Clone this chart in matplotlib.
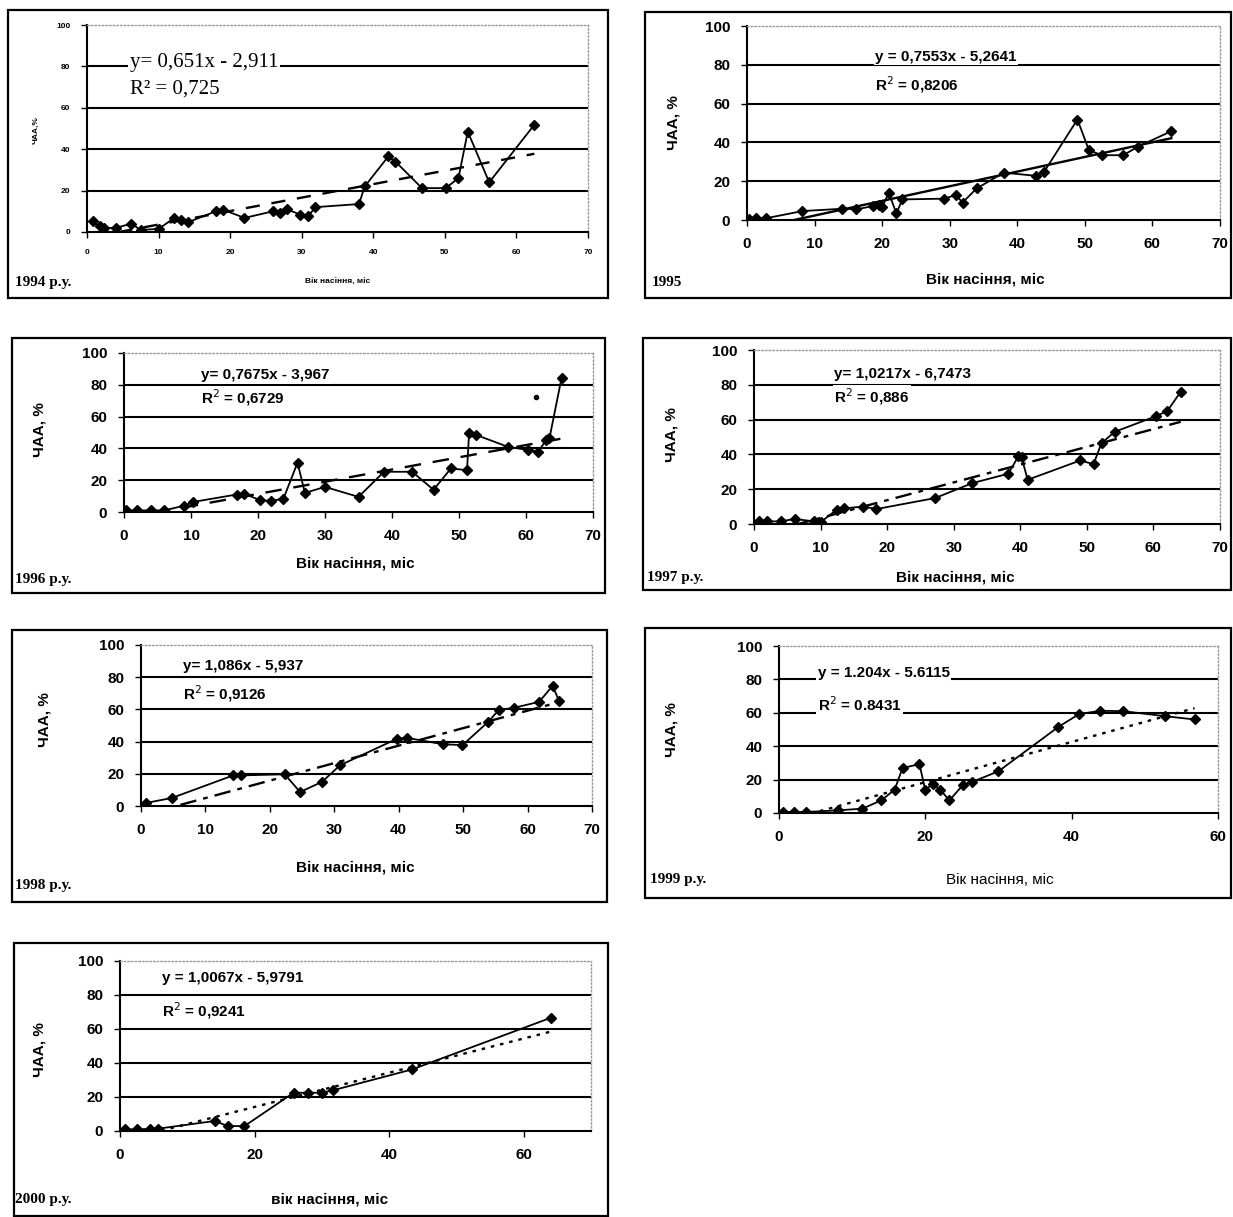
import matplotlib
matplotlib.use("Agg")
import matplotlib.pyplot as plt
from matplotlib.patches import Rectangle

W, H = 1233, 1217

# data (age of seed, months -> ЧАА, %)
x_1994 = [0.8, 1.8, 2.4, 4, 6.2, 7.5, 10, 12.2, 13.2, 14.1, 18, 19, 22, 26, 27, 27.9, 29.8, 30.9, 31.9, 38, 38.8, 42.1, 43.1, 46.8, 50.1, 51.9, 53.2, 56.2, 62.5]
y_1994 = [5.1, 2.7, 2, 2, 4, 1, 1.5, 6.8, 6, 4.7, 10, 10.8, 6.8, 10, 9, 11, 8.4, 7.6, 12, 13.5, 22, 36.5, 34, 21.2, 21.2, 26, 48.5, 24, 51.8]

x_1995 = [0.3, 1.4, 2.8, 8.2, 14.1, 16.2, 18.7, 19.6, 20, 21, 22.1, 23, 29.2, 30.9, 31.9, 34, 38, 42.7, 44, 48.9, 50.6, 52.5, 55.7, 57.8, 62.8]
y_1995 = [0.5, 0.9, 0.9, 4.6, 5.8, 5.5, 7.2, 7.7, 6.9, 14, 3.4, 10.6, 11, 12.9, 9, 16.3, 24.4, 22.8, 25, 51.8, 36, 33.4, 33.4, 37.7, 45.8]

x_1996 = [0.3, 2, 4, 6, 9, 10.3, 16.8, 17.9, 20.3, 22, 23.8, 25.9, 27, 30, 35, 38.8, 43, 46.2, 48.8, 51.2, 51.5, 52.6, 57.3, 60.3, 61.8, 63, 63.5, 65.3]
y_1996 = [1, 1, 1, 1, 4, 6.3, 11, 11.6, 7.4, 7, 8.4, 31, 12, 15.8, 9.5, 25.3, 25.3, 14, 27.4, 26.3, 49.5, 48.4, 41, 39, 38, 45, 46.3, 84.2]
x_1996_extra = [61.5]
y_1996_extra = [72.6]

x_1997 = [0.7, 2, 4, 6.1, 9, 10, 12.4, 13.5, 16.4, 18.4, 27.2, 32.8, 38.2, 39.7, 40.2, 41.1, 49, 51, 52.2, 54.2, 60.4, 62.1, 64.1]
y_1997 = [1.5, 1.5, 1.5, 2.9, 1.5, 1, 8.2, 9, 10, 8.6, 14.9, 23.5, 28.9, 38.8, 38.4, 25.4, 36.5, 34.4, 46.5, 53, 62, 65, 76]

x_1998 = [0.8, 4.8, 14.3, 15.5, 22.3, 24.7, 28.1, 30.9, 39.8, 41.3, 46.8, 49.9, 53.9, 55.5, 57.9, 61.8, 63.9, 64.9]
y_1998 = [1.9, 5, 19, 19, 19.7, 8.7, 15, 25.3, 41.9, 42.3, 38.4, 37.8, 52.3, 59.5, 61, 64.7, 74.7, 65]

x_1999 = [0.6, 2, 3.7, 8.1, 11.4, 14, 15.8, 16.9, 19.2, 20, 21, 22, 23.3, 25.1, 26.4, 30, 38.2, 41, 43.9, 47, 52.7, 56.8]
y_1999 = [0.6, 0.6, 0.6, 1.6, 2.6, 7.6, 14, 27, 29.2, 13.6, 17.6, 14, 7.6, 16.6, 18.6, 25, 51.6, 59.2, 61.2, 61, 58, 56]

x_2000 = [0.7, 2.5, 4.5, 5.7, 14.1, 16, 18.5, 25.8, 28, 30, 31.7, 43.4, 64.1]
y_2000 = [1, 1, 1.2, 1.4, 5.9, 2.9, 2.9, 22.5, 22.5, 22.5, 24, 36.2, 66.7]

# trend equations printed on the panels
trend_1994 = (0.651, -2.911)
trend_1995 = (0.7553, -5.2641)
trend_1996 = (0.7675, -3.967)
trend_1997 = (1.0217, -6.7473)
trend_1998 = (1.086, -5.937)
trend_1999 = (1.204, -5.6115)
trend_2000 = (1.0067, -5.9791)

eq_1994 = ["y= 0,651x - 2,911", "R² = 0,725"]
eq_1995 = ["y = 0,7553x - 5,2641", "R$^2$ = 0,8206"]
eq_1996 = ["y= 0,7675x - 3,967", "R$^2$ = 0,6729"]
eq_1997 = ["y= 1,0217x - 6,7473", "R$^2$ = 0,886"]
eq_1998 = ["y= 1,086x - 5,937", "R$^2$ = 0,9126"]
eq_1999 = ["y = 1.204x - 5.6115", "R$^2$ = 0.8431"]
eq_2000 = ["y = 1,0067x - 5,9791", "R$^2$ = 0,9241"]

fig = plt.figure(figsize=(W / 100, H / 100), dpi=100)
fig.patch.set_facecolor("white")


def fx(px):
    return px / W


def fy(py):
    return 1 - py / H


def frame(l, t, r, b):
    fig.patches.append(Rectangle((fx(l), fy(b)), fx(r - l), (b - t) / H,
                                 transform=fig.transFigure, fill=False,
                                 edgecolor="black", linewidth=1.6))


def panel(box, xs, ys, trend, tstyle, eq, eqpos, year, xlab, ylab,
          xmax=70, xstep=10, tfs=11, efs=11, serif=False, tick_small=False, xbold=True):
    l, t, r, b = box
    ax = fig.add_axes([fx(l), fy(b), (r - l) / W, (b - t) / H])
    ax.set_xlim(0, xmax)
    ax.set_ylim(0, 100)
    ax.set_xticks(range(0, xmax + 1, xstep))
    ax.set_yticks(range(0, 101, 20))
    fam = "Liberation Serif" if serif else "Liberation Sans"
    fs = 6 if tick_small else tfs
    for lab in ax.get_xticklabels() + ax.get_yticklabels():
        lab.set_fontfamily("Liberation Sans")
        lab.set_fontsize(fs)
        lab.set_fontweight("bold")
    ax.tick_params(axis="both", direction="out", length=4, width=1, pad=8)
    for yv in (20, 40, 60, 80):
        ax.axhline(yv, color="black", lw=1.5, zorder=1)
    ax.spines["left"].set_linewidth(1.5)
    ax.spines["bottom"].set_linewidth(1.5)
    for s in ("top", "right"):
        ax.spines[s].set_linestyle(":")
        ax.spines[s].set_color("#999999")
        ax.spines[s].set_linewidth(1)

    ax.plot(xs, ys, color="black", lw=1.3, marker="D", ms=5, zorder=3)
    k, c = trend
    x0, x1 = min(xs), max(xs)
    ax.plot([x0, x1], [k * x0 + c, k * x1 + c], color="black", lw=1.7,
            linestyle=tstyle, zorder=2)

    ex, ey1, ey2 = eqpos
    w = "normal" if serif else "bold"
    for txt, yv in ((eq[0], ey1), (eq[1], ey2)):
        ax.text(ex, yv, txt, fontsize=efs, family=fam, fontweight=w,
                va="center", ha="left", zorder=4,
                bbox=dict(facecolor="white", edgecolor="none", pad=1))

    yl, yx, yy = ylab
    fig.text(fx(yx), fy(yy), yl, rotation=90, ha="center", va="center",
             fontsize=6 if tick_small else 11, fontweight="bold", family="Liberation Sans")
    xl, xx, xy = xlab
    fig.text(fx(xx), fy(xy), xl, ha="center", va="center",
             fontsize=6 if tick_small else 11, fontweight="bold" if xbold else "normal",
             family="Liberation Sans")
    yt, yxx, yyy = year
    fig.text(fx(yxx), fy(yyy), yt, ha="left", va="center", fontsize=11,
             fontweight="bold", family="Liberation Serif")
    return ax


# 1994
frame(8, 10, 608, 298)
panel((87, 25, 588, 232), x_1994, y_1994, trend_1994, (0, (6, 5)), eq_1994, (6, 82, 69),
      ("1994 р.у.", 15, 283), ("Вік насіння, міс", 338, 282), ("ЧАА,%", 36, 130),
      efs=15, serif=True, tick_small=True)

# 1995
frame(645, 12, 1231, 298)
panel((747, 26, 1220, 220), x_1995, y_1995, trend_1995, "-", eq_1995, (19, 84, 70),
      ("1995", 652, 282), ("Вік насіння, міс", 985, 280), ("ЧАА, %", 674, 123))

# 1996
frame(12, 338, 605, 593)
ax3 = panel((124, 353, 593, 512), x_1996, y_1996, trend_1996, (0, (7, 5)), eq_1996, (11.5, 86, 72),
            ("1996 р.у.", 15, 580), ("Вік насіння, міс", 355, 563), ("ЧАА, %", 40, 430))
ax3.plot(x_1996_extra, y_1996_extra, linestyle="none", marker="o", ms=3, color="black")

# 1997
frame(643, 338, 1231, 590)
panel((754, 350, 1220, 524), x_1997, y_1997, trend_1997, (0, (7, 3, 2, 3)), eq_1997, (12, 86, 73),
      ("1997 р.у.", 647, 577), ("Вік насіння, міс", 955, 577), ("ЧАА, %", 672, 435))

# 1998
frame(12, 630, 607, 902)
panel((141, 645, 592, 806), x_1998, y_1998, trend_1998, (0, (7, 3, 2, 3)), eq_1998, (6.5, 87, 70),
      ("1998 р.у.", 15, 885), ("Вік насіння, міс", 355, 867), ("ЧАА, %", 45, 720))

# 1999
frame(645, 628, 1231, 898)
panel((779, 646, 1218, 813), x_1999, y_1999, trend_1999, (0, (1.5, 2.5)), eq_1999, (5.3, 84, 65),
      ("1999 р.у.", 650, 880), ("Вік насіння, міс", 1000, 880), ("ЧАА, %", 672, 730),
      xmax=60, xstep=20, xbold=False)

# 2000
frame(14, 943, 608, 1216)
panel((120, 961, 591, 1131), x_2000, y_2000, trend_2000, (0, (1.5, 2.5)), eq_2000, (6.2, 90, 71),
      ("2000 р.у.", 15, 1200), ("вік насіння, міс", 330, 1200), ("ЧАА, %", 40, 1050),
      xstep=20)

fig.savefig("out.png", dpi=100, facecolor="white")
